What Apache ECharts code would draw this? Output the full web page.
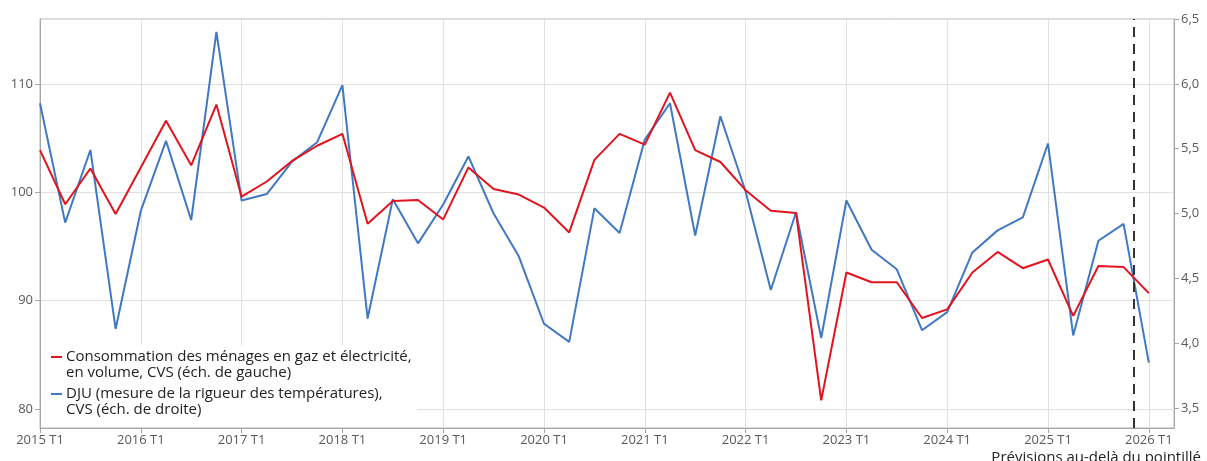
<!DOCTYPE html>
<html lang="fr">
<head>
<meta charset="utf-8">
<title>Consommation des ménages en gaz et électricité et DJU</title>
<script src="https://cdn.jsdelivr.net/npm/echarts@6/dist/echarts.min.js"></script>
<style>
  html, body { margin: 0; padding: 0; background: #fff; }
  #chart { width: 1207px; height: 461px; }
</style>
</head>
<body>
<div id="chart"></div>
<script>
// Quarters 2015 T1 .. 2026 T1
const years = [2015, 2016, 2017, 2018, 2019, 2020, 2021, 2022, 2023, 2024, 2025, 2026];
const quarters = [];
years.forEach(y => { for (let q = 1; q <= 4; q++) quarters.push(y + ' T' + q); });
const categories = quarters.slice(0, 45);

// Household consumption of gas & electricity, volume, seasonally adjusted (left scale)
const consommation = [
  103.9, 98.9, 102.2, 98.0, 102.3, 106.6, 102.5, 108.1,
  99.6, 101.0, 102.9, 104.3, 105.4, 97.1, 99.2, 99.3,
  97.5, 102.3, 100.3, 99.8, 98.6, 96.3, 103.0, 105.4,
  104.4, 109.2, 103.9, 102.8, 100.2, 98.3, 98.1, 80.8,
  92.6, 91.7, 91.7, 88.4, 89.2, 92.6, 94.5, 93.0,
  93.8, 88.6, 93.2, 93.1, 90.7
];

// Heating degree-days (DJU), seasonally adjusted (right scale)
const dju = [
  5.85, 4.93, 5.49, 4.11, 5.02, 5.56, 4.95, 6.40,
  5.10, 5.15, 5.40, 5.55, 5.99, 4.19, 5.11, 4.77,
  5.07, 5.44, 5.00, 4.67, 4.15, 4.01, 5.04, 4.85,
  5.57, 5.85, 4.83, 5.75, 5.17, 4.41, 5.01, 4.04,
  5.10, 4.72, 4.57, 4.10, 4.24, 4.70, 4.87, 4.97,
  5.54, 4.06, 4.79, 4.92, 3.85
];

const leftTicks = [80, 90, 100, 110];
const rightTicks = [3.5, 4.0, 4.5, 5.0, 5.5, 6.0, 6.5];
const forecastStart = 43.4; // position of the dashed separator (in quarters from 2015 T1)

const legendLabels = [
  ['Consommation des ménages en gaz et électricité,', 'en volume, CVS (éch. de gauche)'],
  ['DJU (mesure de la rigueur des températures),', 'CVS (éch. de droite)']
];
const note = 'Prévisions au-delà du pointillé';

const RED = '#e3131e';
const BLUE = '#4079c2';
const FONT = '"Open Sans", "Noto Sans", sans-serif';
const LEGEND_FONT = '15px ' + FONT;

const chart = echarts.init(document.getElementById('chart'), null, { renderer: 'canvas' });

const toPairs = arr => arr.map((v, i) => [i, v]);

// legend drawn as a white panel with a short line key and two text lines per entry
function legendItem(color, lines, yMid) {
  return [
    { type: 'line', shape: { x1: 51, y1: yMid, x2: 62, y2: yMid }, style: { stroke: color, lineWidth: 2 }, z: 51 },
    { type: 'text', x: 66, y: yMid, style: { text: lines[0], fill: '#222', font: LEGEND_FONT, verticalAlign: 'middle' }, z: 51 },
    { type: 'text', x: 66, y: yMid + 16, style: { text: lines[1], fill: '#222', font: LEGEND_FONT, verticalAlign: 'middle' }, z: 51 }
  ];
}

const option = {
  animation: false,
  backgroundColor: '#fff',
  textStyle: { fontFamily: FONT },
  grid: { left: 40, right: 33, top: 19, bottom: 33, containLabel: false, show: true, borderColor: '#b5b5b5', borderWidth: 1, backgroundColor: 'transparent' },
  xAxis: {
    type: 'value',
    min: 0,
    max: 45,
    interval: 4,
    axisLine: { show: true, lineStyle: { color: '#a6a6a6', width: 1 } },
    axisTick: { show: true, length: 5, lineStyle: { color: '#a6a6a6' } },
    axisLabel: {
      color: '#595959', fontSize: 13, fontFamily: FONT, margin: 6,
      showMaxLabel: false,
      formatter: v => (v % 4 === 0 && categories[v]) ? categories[v] : ''
    },
    splitLine: { show: true, lineStyle: { color: '#e0e0e0', width: 1 } }
  },
  yAxis: [
    {
      type: 'value',
      min: 78.25,
      max: 116,
      splitNumber: 4,
      axisLine: { show: true, lineStyle: { color: '#a6a6a6', width: 1 } },
      axisTick: { show: true, length: 5, lineStyle: { color: '#a6a6a6' } },
      axisLabel: {
        color: '#595959', fontSize: 13, fontFamily: FONT, margin: 7,
        showMinLabel: false, showMaxLabel: false,
        formatter: v => leftTicks.indexOf(v) >= 0 ? String(v) : ''
      },
      splitLine: { show: true, lineStyle: { color: '#e0e0e0', width: 1 } }
    },
    {
      type: 'value',
      min: 3.346,
      max: 6.5,
      splitNumber: 6,
      position: 'right',
      axisLine: { show: true, lineStyle: { color: '#a6a6a6', width: 1 } },
      axisTick: { show: true, length: 5, lineStyle: { color: '#a6a6a6' } },
      axisLabel: {
        color: '#595959', fontSize: 13, fontFamily: FONT, margin: 7,
        showMinLabel: false,
        formatter: v => {
          const r = Math.round(v * 10) / 10;
          return rightTicks.indexOf(r) >= 0 && Math.abs(v - r) < 1e-6 ? r.toFixed(1).replace('.', ',') : '';
        }
      },
      splitLine: { show: false }
    }
  ],
  series: [
    {
      name: legendLabels[0].join(' '),
      type: 'line',
      yAxisIndex: 0,
      data: toPairs(consommation),
      symbol: 'none',
      lineStyle: { color: RED, width: 2 },
      itemStyle: { color: RED },
      z: 3
    },
    {
      name: legendLabels[1].join(' '),
      type: 'line',
      yAxisIndex: 1,
      data: toPairs(dju),
      symbol: 'none',
      lineStyle: { color: BLUE, width: 2 },
      itemStyle: { color: BLUE },
      z: 2,
      markLine: {
        silent: true,
        symbol: ['none', 'none'],
        label: { show: false },
        lineStyle: { color: '#333', width: 2, type: [10, 7] },
        data: [{ xAxis: forecastStart }],
        z: 4
      }
    }
  ],
  graphic: [
    { type: 'rect', shape: { x: 41, y: 345, width: 376, height: 82 }, style: { fill: '#fff' }, z: 50 },
    ...legendItem(RED, legendLabels[0], 357),
    ...legendItem(BLUE, legendLabels[1], 394),
    // note below the axis
    { type: 'text', x: 1201, y: 450, style: { text: note, fill: '#222', font: LEGEND_FONT, align: 'right', verticalAlign: 'top' }, z: 51 }
  ]
};

chart.setOption(option);
</script>
</body>
</html>
